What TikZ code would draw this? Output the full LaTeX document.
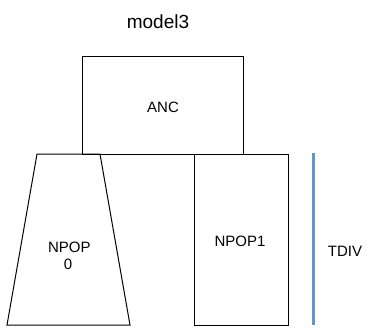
\documentclass[tikz,border=0pt]{standalone}
\usepackage{fontspec}
\setmainfont{Liberation Sans}
\definecolor{tdivblue}{RGB}{98,150,208}
\begin{document}
\begin{tikzpicture}[x=1pt,y=-1pt,
  box/.style={draw=black,line width=1pt},
  lbl/.style={font=\fontsize{15}{17}\selectfont,align=center,inner sep=0pt},
  ]
\useasboundingbox (0,0) rectangle (369,329);
\node[lbl,font=\fontsize{19}{21}\selectfont] (title) at (158,22) {model3};
\draw[box] (82,57) rectangle (243,154);
\node[lbl] (anc) at (163,107) {ANC};
\draw[box] (37,154) -- (100,154) -- (130,325) -- (7,325) -- cycle;
\node[lbl,text width=40pt] (npop0) at (68,256) {NPOP\\0};
\draw[box] (194,154) rectangle (288,325);
\node[lbl] (npop1) at (240,241) {NPOP1};
\coordinate (tdtop) at (313.5,153);
\coordinate (tdbot) at (313.5,325);
\draw[tdivblue,line width=3pt] (tdtop) -- (tdbot);
\node[lbl] (tdiv) at (345,251) {TDIV};
\end{tikzpicture}
\end{document}
